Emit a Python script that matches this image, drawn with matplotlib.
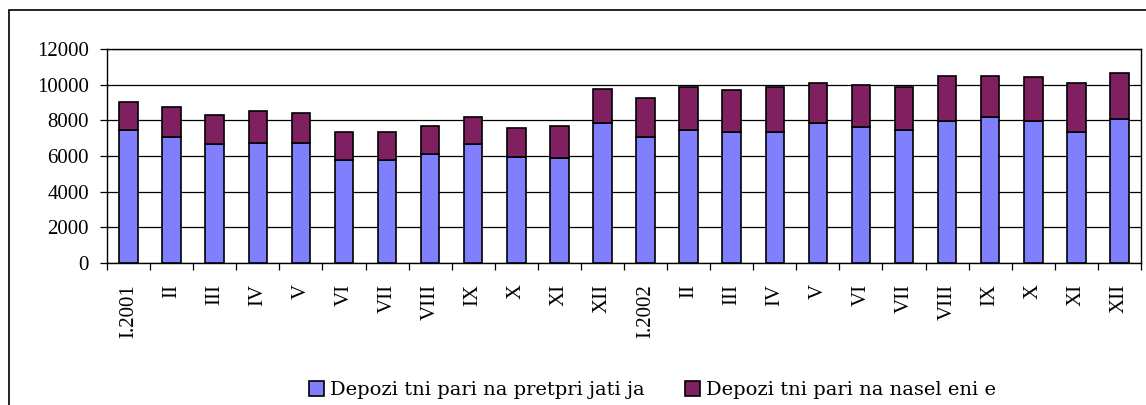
import numpy as np
import matplotlib.pyplot as plt
from matplotlib.patches import Rectangle

# months (Roman numerals), 2001 and 2002
months = ['I.2001', 'II', 'III', 'IV', 'V', 'VI', 'VII', 'VIII', 'IX', 'X', 'XI', 'XII',
          'I.2002', 'II', 'III', 'IV', 'V', 'VI', 'VII', 'VIII', 'IX', 'X', 'XI', 'XII']

# deposits of enterprises (bottom part)
pretprijatija = [7465, 7055, 6645, 6740, 6740, 5790, 5790, 6085, 6645, 5970, 5880, 7875,
                 7055, 7465, 7355, 7355, 7875, 7650, 7465, 7970, 8195, 7970, 7355, 8100]
# totals (top of each bar)
vkupno = [9050, 8735, 8325, 8510, 8415, 7355, 7355, 7670, 8210, 7595, 7670, 9780,
          9275, 9890, 9685, 9875, 10115, 9985, 9875, 10510, 10510, 10415, 10115, 10640]
naselenie = [t - p for t, p in zip(vkupno, pretprijatija)]

labels = ['Depozi tni pari na pretpri jati ja', 'Depozi tni pari na nasel eni e']

plt.rcParams['font.family'] = ['Liberation Serif', 'DejaVu Serif']

fig = plt.figure(figsize=(11.46, 4.05), dpi=100)
ax = fig.add_axes([107/1146, 1-263/405, (1141-107)/1146, (263-49)/405])

x = np.arange(len(months))
b1 = ax.bar(x, pretprijatija, width=0.43, color='#8080FF', edgecolor='black', linewidth=1.2, zorder=3)
b2 = ax.bar(x, naselenie, bottom=pretprijatija, width=0.43, color='#802060',
            edgecolor='black', linewidth=1.2, zorder=3)

ax.set_xlim(-0.5, len(months) - 0.5)
ax.set_ylim(0, 12000)
ax.set_yticks(range(0, 12001, 2000))
ax.yaxis.grid(True, color='black', linewidth=0.9, zorder=0)
ax.tick_params(axis='y', direction='out', length=5, width=0.9, labelsize=15, pad=8)

# category ticks at boundaries, labels at centers
ax.set_xticks(np.arange(len(months) + 1) - 0.5)
ax.set_xticklabels([])
ax.set_xticks(x, minor=True)
ax.set_xticklabels(months, minor=True, rotation=90, fontsize=15, va='top')
ax.tick_params(axis='x', which='major', direction='out', length=5, width=0.9)
ax.tick_params(axis='x', which='minor', length=0, pad=15)

for s in ax.spines.values():
    s.set_linewidth(1.0)

# outer chart frame
fig.patches.append(Rectangle((9/1146, -0.1), 1.2, 1-10/405+0.1, transform=fig.transFigure,
                             fill=False, edgecolor='black', linewidth=1.2))

fig.legend([b1, b2], labels, loc='center left', bbox_to_anchor=(291/1146, 1-390/405), ncol=2,
           frameon=False, prop={'family': 'DejaVu Serif', 'size': 14},
           handlelength=0.78, handleheight=0.78, handletextpad=0.3, columnspacing=2.1)

fig.savefig('out.png', dpi=100)
